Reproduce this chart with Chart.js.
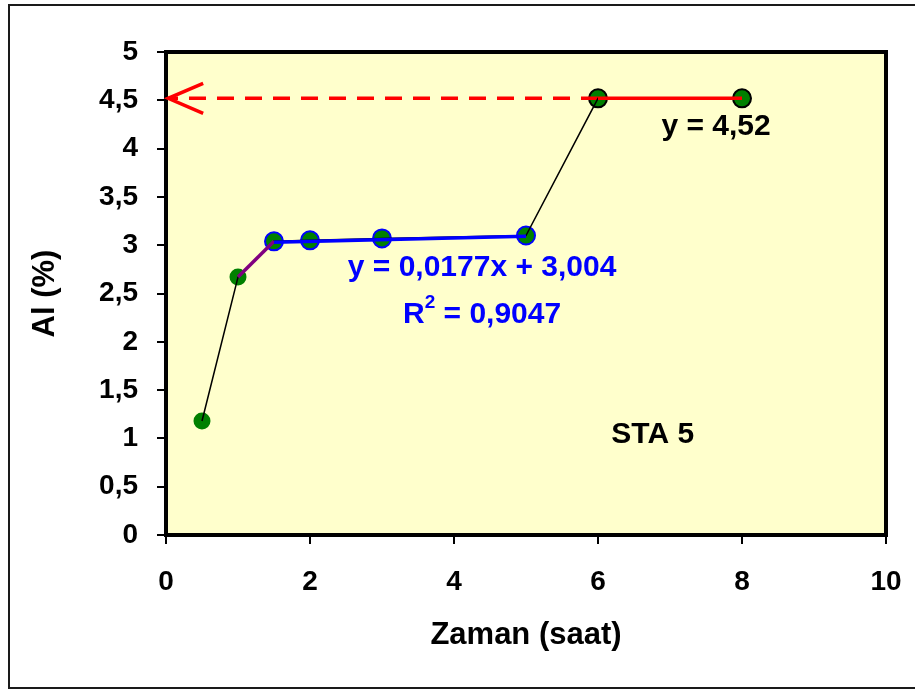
<!DOCTYPE html>
<html>
<head>
<meta charset="utf-8">
<script src="https://cdn.jsdelivr.net/npm/chart.js@4.4.1/dist/chart.umd.min.js"></script>
<style>
  html, body { margin: 0; padding: 0; background: #fff; }
  #wrap { width: 915px; height: 689px; }
</style>
</head>
<body>
<div id="wrap"><canvas id="alChart" width="915" height="689"></canvas></div>
<script>
// STA 5 - Al (%) against time (hours)
const timeH = [0.5, 1, 1.5, 2, 3, 5, 6, 8];
const alPct = [1.18, 2.67, 3.04, 3.05, 3.07, 3.10, 4.52, 4.52];

// point outline per sample
const pointEdge = ['#008000', '#008000', '#0000ff', '#0000ff', '#0000ff', '#0000ff', '#000000', '#000000'];
const pointSize = [7.5, 7.5, 9, 9, 9, 9, 9, 9];

// linear fit over the middle part, constant over the last part
const fitSlope = 0.0177;
const fitIntercept = 3.004;
const fitFrom = 1.5, fitTo = 5;
const plateau = 4.52;
const plateauFrom = 6, plateauTo = 8;
const arrowTipX = 0.03;

const xTickStep = 2;
const yTickStep = 0.5;

const FONT = "'Liberation Sans', Arial, sans-serif";

const pts = timeH.map((t, i) => ({ x: t, y: alPct[i] }));
const fitLine = [fitFrom, fitTo].map(x => ({ x: x, y: fitSlope * x + fitIntercept }));
const plateauLine = [plateauFrom, plateauTo].map(x => ({ x: x, y: plateau }));
const guideLine = [{ x: plateauFrom, y: plateau }, { x: arrowTipX, y: plateau }];
const rampLine = [pts[1], pts[2]];

const comma = v => String(v).replace('.', ',');

const decorPlugin = {
  id: 'decor',
  beforeDraw(chart) {
    const ctx = chart.ctx;
    const a = chart.chartArea;
    ctx.save();
    ctx.fillStyle = '#ffffff';
    ctx.fillRect(0, 0, chart.width, chart.height);
    // outer frame
    ctx.strokeStyle = '#1a1a1a';
    ctx.lineWidth = 2;
    ctx.beginPath();
    ctx.moveTo(chart.width, 5);
    ctx.lineTo(9, 5);
    ctx.lineTo(9, 688);
    ctx.lineTo(chart.width, 688);
    ctx.stroke();
    // plot background
    ctx.fillStyle = '#ffffcc';
    ctx.fillRect(a.left, a.top, a.right - a.left, a.bottom - a.top);
    ctx.restore();
  },
  beforeDatasetsDraw(chart) {
    const ctx = chart.ctx;
    const a = chart.chartArea;
    ctx.save();
    ctx.strokeStyle = '#000';
    ctx.lineWidth = 4;
    ctx.strokeRect(a.left, a.top, a.right - a.left, a.bottom - a.top);
    ctx.restore();
  },
  afterDatasetsDraw(chart) {
    const ctx = chart.ctx;
    const xs = chart.scales.x, ys = chart.scales.y;
    ctx.save();

    // open arrow head on the dashed guide
    const tx = xs.getPixelForValue(arrowTipX);
    const ty = ys.getPixelForValue(plateau);
    ctx.strokeStyle = '#ff0000';
    ctx.lineWidth = 3.5;
    ctx.beginPath();
    ctx.moveTo(tx + 35, ty - 15);
    ctx.lineTo(tx, ty);
    ctx.lineTo(tx + 35, ty + 15);
    ctx.stroke();

    ctx.textAlign = 'center';
    ctx.textBaseline = 'middle';

    ctx.font = 'bold 30px ' + FONT;
    ctx.fillStyle = '#000';
    ctx.fillText('y = ' + comma(plateau), xs.getPixelForValue(7.64), ys.getPixelForValue(4.23));
    ctx.fillText('STA 5', xs.getPixelForValue(6.76), ys.getPixelForValue(1.035));

    ctx.fillStyle = '#0000ff';
    ctx.fillText('y = ' + comma(fitSlope) + 'x + ' + comma(fitIntercept),
      xs.getPixelForValue(4.39), ys.getPixelForValue(2.77));

    // R² with a raised 2
    const rx = xs.getPixelForValue(4.39), ry = ys.getPixelForValue(2.28);
    const head = 'R', tail = ' = 0,9047';
    ctx.font = 'bold 30px ' + FONT;
    const wHead = ctx.measureText(head).width;
    const wTail = ctx.measureText(tail).width;
    ctx.font = 'bold 19px ' + FONT;
    const wSup = ctx.measureText('2').width;
    let x0 = rx - (wHead + wSup + wTail) / 2;
    ctx.textAlign = 'left';
    ctx.font = 'bold 30px ' + FONT;
    ctx.fillText(head, x0, ry);
    ctx.font = 'bold 19px ' + FONT;
    ctx.fillText('2', x0 + wHead, ry - 12);
    ctx.font = 'bold 30px ' + FONT;
    ctx.fillText(tail, x0 + wHead + wSup, ry);

    ctx.restore();
  }
};

const ctx = document.getElementById('alChart').getContext('2d');
const alChart = new Chart(ctx, {
  type: 'scatter',
  data: {
    datasets: [
      {
        label: 'fit',
        data: fitLine,
        showLine: true,
        borderColor: '#0000ff',
        borderWidth: 3.5,
        pointRadius: 0
      },
      {
        label: 'plateau',
        data: plateauLine,
        showLine: true,
        borderColor: '#ff0000',
        borderWidth: 3.5,
        pointRadius: 0
      },
      {
        label: 'ramp',
        data: rampLine,
        showLine: true,
        borderColor: '#800080',
        borderWidth: 3.5,
        pointRadius: 0
      },
      {
        label: 'trace',
        data: pts,
        showLine: true,
        borderColor: '#000000',
        borderWidth: 1.5,
        pointRadius: 0
      },
      {
        label: 'guide',
        data: guideLine,
        showLine: true,
        borderColor: '#ff0000',
        borderWidth: 3.5,
        borderDash: [17, 11],
        pointRadius: 0
      },
      {
        label: 'Al',
        data: pts,
        showLine: false,
        backgroundColor: '#008000',
        borderColor: pointEdge,
        borderWidth: 2,
        pointRadius: pointSize,
        pointHoverRadius: pointSize
      }
    ]
  },
  options: {
    responsive: false,
    animation: false,
    events: [],
    layout: { padding: { top: 52, right: 29, left: 0, bottom: 0 } },
    plugins: {
      legend: { display: false },
      tooltip: { enabled: false }
    },
    scales: {
      x: {
        type: 'linear',
        min: 0,
        max: 10,
        afterFit: s => {
          s.height = 154;
          // keep the "10" label overhang from shrinking the plot
          s.paddingLeft = 0;
          s.paddingRight = 0;
        },
        border: { display: false },
        grid: {
          drawOnChartArea: false,
          drawTicks: true,
          tickLength: 9,
          color: '#000',
          lineWidth: 2
        },
        ticks: {
          stepSize: xTickStep,
          padding: 21,
          color: '#000',
          font: { family: FONT, size: 28, weight: 'bold' },
          callback: v => comma(v)
        },
        title: {
          display: true,
          text: 'Zaman (saat)',
          color: '#000',
          font: { family: FONT, size: 31, weight: 'bold' },
          padding: { top: 0, bottom: 35 }
        }
      },
      y: {
        type: 'linear',
        min: 0,
        max: 5,
        afterFit: s => { s.width = 166; },
        border: { display: false },
        grid: {
          drawOnChartArea: false,
          drawTicks: true,
          tickLength: 9,
          color: '#000',
          lineWidth: 2
        },
        ticks: {
          stepSize: yTickStep,
          padding: 19,
          color: '#000',
          font: { family: FONT, size: 28, weight: 'bold' },
          callback: v => comma(v)
        },
        title: {
          display: true,
          text: 'Al (%)',
          color: '#000',
          font: { family: FONT, size: 31, weight: 'bold' },
          padding: { top: 27, bottom: 0 }
        }
      }
    }
  },
  plugins: [decorPlugin]
});
</script>
</body>
</html>
